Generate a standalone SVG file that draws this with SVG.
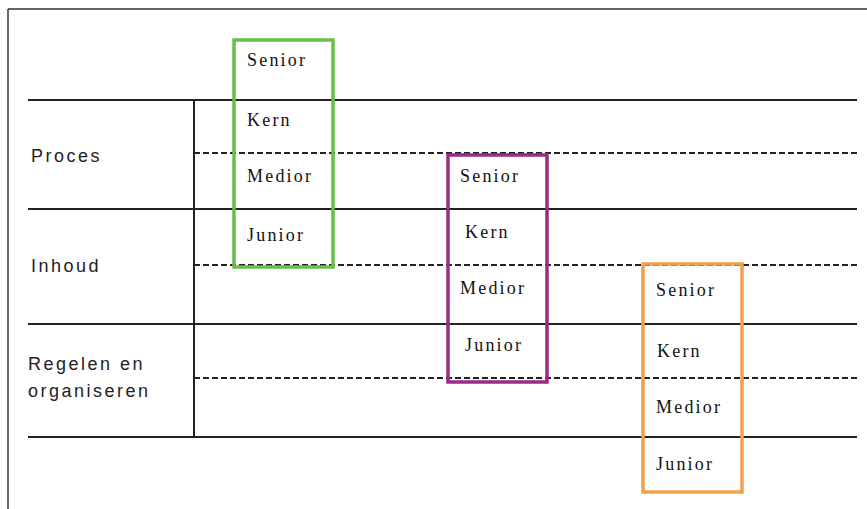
<svg xmlns="http://www.w3.org/2000/svg" width="867" height="509" viewBox="0 0 867 509">
<style>
.frame{stroke:#333;stroke-width:1.5;fill:none}
.solid{stroke:#222;stroke-width:2;fill:none}
.dash{stroke:#222;stroke-width:1.8;stroke-dasharray:6 3;fill:none}
.lbl{font-family:"Liberation Sans",Arial,sans-serif;font-size:18px;letter-spacing:2.5px;fill:#222}
.lvl{font-family:"Liberation Serif","Times New Roman",serif;font-size:18px;letter-spacing:2.2px;fill:#111}
.box{fill:none;stroke-width:3.5}
</style>
<rect width="867" height="509" fill="#fff"/>
<g id="frame">
<line class="frame" x1="8" y1="9" x2="867" y2="9"/>
<line class="frame" x1="8" y1="9" x2="8" y2="509"/>
</g>
<g id="grid">
<line class="solid" x1="28" y1="100" x2="857" y2="100"/>
<line class="dash" x1="194" y1="153" x2="857" y2="153"/>
<line class="solid" x1="28" y1="209" x2="857" y2="209"/>
<line class="dash" x1="194" y1="265" x2="857" y2="265"/>
<line class="solid" x1="28" y1="324" x2="857" y2="324"/>
<line class="dash" x1="194" y1="378" x2="857" y2="378"/>
<line class="solid" x1="28" y1="437" x2="857" y2="437"/>
<line class="solid" x1="194" y1="100" x2="194" y2="437"/>
</g>
<g id="labels">
<text class="lbl" x="31" y="162">Proces</text>
<text class="lbl" x="31" y="272">Inhoud</text>
<text class="lbl" x="28" y="370">Regelen en</text>
<text class="lbl" x="28" y="397">organiseren</text>
</g>
<g id="green">
<rect class="box" x="234" y="40" width="99" height="227" stroke="#6abf4b"/>
<text class="lvl" x="247" y="66">Senior</text>
<text class="lvl" x="247" y="126">Kern</text>
<text class="lvl" x="247" y="182">Medior</text>
<text class="lvl" x="247" y="241">Junior</text>
</g>
<g id="purple">
<rect class="box" x="448" y="155" width="99" height="227" stroke="#9c2a88"/>
<text class="lvl" x="460" y="182">Senior</text>
<text class="lvl" x="465" y="238">Kern</text>
<text class="lvl" x="460" y="294">Medior</text>
<text class="lvl" x="465" y="351">Junior</text>
</g>
<g id="orange">
<rect class="box" x="643" y="264" width="99" height="228" stroke="#f0a04b"/>
<text class="lvl" x="656" y="296">Senior</text>
<text class="lvl" x="657" y="357">Kern</text>
<text class="lvl" x="656" y="413">Medior</text>
<text class="lvl" x="656" y="470">Junior</text>
</g>
</svg>
